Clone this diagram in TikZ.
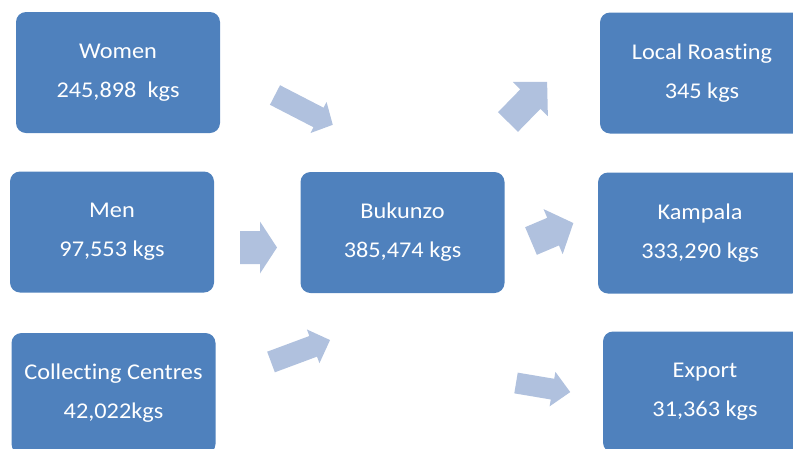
\documentclass[tikz,border=0pt]{standalone}
\usepackage{fontspec}
\setmainfont{Carlito}[FakeStretch=1.08,Ligatures=NoCommon]
\definecolor{boxblue}{HTML}{4F81BD}
\definecolor{arrowblue}{HTML}{B0C1DE}
\tikzset{
  stage/.style={fill=boxblue, rounded corners=10pt, minimum width=204pt,
    minimum height=121pt, text=white, align=center, inner sep=0pt,
    font=\fontsize{22.5}{39}\selectfont},
  flowarrow/.style={fill=arrowblue}
}
% tail coordinate, angle, length, shaft width, head width, head length
\newcommand{\blockarrow}[6]{%
  \fill[flowarrow, shift={(#1)}, rotate=#2]
    (0,{-#4/2}) -- ({#3-#6},{-#4/2}) -- ({#3-#6},{-#5/2}) -- (#3,0)
    -- ({#3-#6},{#5/2}) -- ({#3-#6},{#4/2}) -- (0,{#4/2}) -- cycle;}
\begin{document}
\begin{tikzpicture}[x=1pt,y=-1pt]
\useasboundingbox (0,0) rectangle (793,448);
\clip (0,0) rectangle (793,448);
\node[stage] (women) at (118,72.5) {Women\\245,898~ kgs};
\node[stage] (men) at (112,232) {Men\\97,553 kgs};
\node[stage] (coll) at (113.5,393.5) {Collecting Centres\\42,022kgs};
\node[stage] (buk) at (402.5,232.5) {Bukunzo\\385,474 kgs};
\node[stage] (local) at (702,73) {Local Roasting\\345 kgs};
\node[stage] (kamp) at (700,233) {Kampala\\333,290 kgs};
\node[stage] (export) at (705,392) {Export\\31,363 kgs};
\coordinate (t1) at (275,95);
\coordinate (t2) at (240,247.5);
\coordinate (t3) at (271,362);
\coordinate (t4) at (508,122);
\coordinate (t5) at (531,241);
\coordinate (t6) at (516,383);
\blockarrow{t1}{-27.3}{65}{22}{35}{16}
\blockarrow{t2}{0}{37}{33}{52}{17}
\blockarrow{t3}{20.4}{63}{22}{36}{18}
\blockarrow{t4}{45.7}{56}{28}{49}{24}
\blockarrow{t5}{23}{46}{30}{49}{22}
\blockarrow{t6}{-9.5}{55}{21}{35}{18}
\end{tikzpicture}
\end{document}
